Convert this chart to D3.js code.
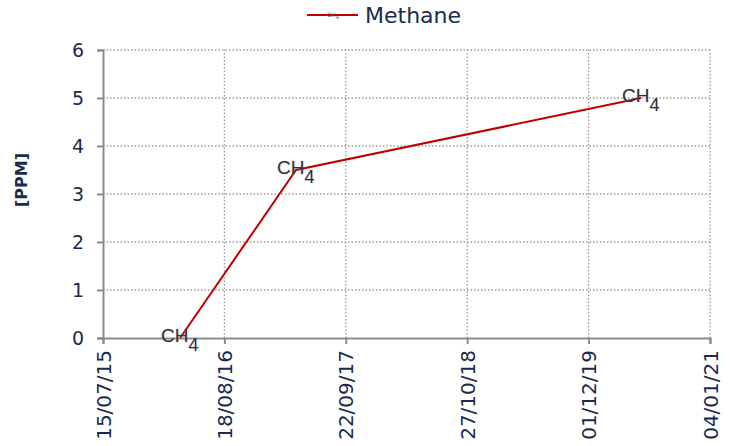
<!DOCTYPE html>
<html>
<head>
<meta charset="utf-8">
<script src="https://cdn.jsdelivr.net/npm/d3@7"></script>
<style>
  body { margin: 0; background: #fff; }
  svg { display: block; font-family: "DejaVu Sans", Verdana, sans-serif; }
</style>
</head>
<body>
<svg id="chart" width="735" height="446"></svg>
<script>
// Methane concentration readings
const sampleDates = ["2016-03-25", "2017-04-11", "2020-05-22"];
const methanePpm = [0, 3.5, 5.0];
const seriesName = "Methane";
const yTicks = [0, 1, 2, 3, 4, 5, 6];
const xTickDates = ["2015-07-15", "2016-08-18", "2017-09-22", "2018-10-27", "2019-12-01", "2021-01-04"];

const parse = d3.utcParse("%Y-%m-%d");
const fmt = d3.utcFormat("%d/%m/%y");
const data = sampleDates.map((d, i) => ({ date: parse(d), value: methanePpm[i] }));
const xTicks = xTickDates.map(parse);

const navy = "#1b2a4e";
const axisGray = "#8c8c8c";
const lineRed = "#c00000";
const tickFont = "'DejaVu Sans', Verdana, sans-serif";

const margin = { left: 103, right: 25, top: 50, bottom: 108 };
const W = 735, H = 446;
const svg = d3.select("#chart");

const x = d3.scaleUtc()
  .domain([xTicks[0], xTicks[xTicks.length - 1]])
  .range([margin.left, W - margin.right]);
const y = d3.scaleLinear().domain([0, 6]).range([H - margin.bottom, margin.top]);

// gridlines
const grid = svg.append("g");
grid.selectAll("line.h").data(yTicks.filter(v => v > 0)).join("line")
  .attr("x1", margin.left).attr("x2", W - margin.right)
  .attr("y1", d => y(d)).attr("y2", d => y(d))
  .attr("stroke", "#9a9a9a").attr("stroke-width", 1.3).attr("stroke-dasharray", "1.5,2");
grid.selectAll("line.v").data(xTicks.slice(1)).join("line")
  .attr("x1", d => x(d)).attr("x2", d => x(d))
  .attr("y1", y(0)).attr("y2", y(6))
  .attr("stroke", "#9a9a9a").attr("stroke-width", 1.3).attr("stroke-dasharray", "1.5,2");

// y axis
const yAxis = svg.append("g")
  .attr("transform", `translate(${margin.left},0)`)
  .call(d3.axisLeft(y).tickValues(yTicks).tickFormat(d3.format("d")).tickSize(6).tickPadding(13));
yAxis.select(".domain").attr("stroke", axisGray).attr("stroke-width", 2);
yAxis.selectAll(".tick line").attr("stroke", axisGray).attr("stroke-width", 2);
yAxis.selectAll(".tick text").attr("fill", navy).attr("font-size", 19)
  .attr("font-family", tickFont);

// x axis
const xAxis = svg.append("g")
  .attr("transform", `translate(0,${y(0)})`)
  .call(d3.axisBottom(x).tickValues(xTicks).tickFormat(fmt).tickSize(6));
xAxis.select(".domain").attr("stroke", axisGray).attr("stroke-width", 2);
xAxis.selectAll(".tick line").attr("stroke", axisGray).attr("stroke-width", 2);
xAxis.selectAll(".tick text")
  .attr("fill", navy).attr("font-size", 20)
  .attr("font-family", tickFont)
  .attr("transform", "rotate(-90)")
  .attr("text-anchor", "end")
  .attr("x", -12).attr("y", 0).attr("dy", "0.35em");

// y axis title
svg.append("text")
  .attr("transform", "translate(27,180) rotate(-90)")
  .attr("text-anchor", "middle")
  .attr("fill", navy).attr("font-weight", "bold").attr("font-size", 16)
  .text("[PPM]");

// series line
svg.append("path").datum(data)
  .attr("fill", "none").attr("stroke", lineRed).attr("stroke-width", 2)
  .attr("d", d3.line().x(d => x(d.date)).y(d => y(d.value)));

// point labels: CH4
const labels = svg.append("g").selectAll("text").data(data).join("text")
  .attr("x", d => x(d.date) - 19)
  .attr("y", d => y(d.value) + 4)
  .attr("fill", "#333").attr("font-size", 19)
  .attr("font-family", "'Liberation Sans', Arial, sans-serif")
  .style("paint-order", "stroke").attr("stroke", "rgba(120,150,200,0.3)").attr("stroke-width", 1);
labels.append("tspan").text("CH");
labels.append("tspan").attr("dy", 9).attr("font-size", 18).text("4");

// legend
const lg = svg.append("g");
lg.append("line").attr("x1", 307).attr("x2", 358).attr("y1", 15).attr("y2", 15)
  .attr("stroke", lineRed).attr("stroke-width", 2);
const lt = lg.append("text").attr("x", 327).attr("y", 17).attr("fill", "#555").attr("font-size", 6);
lt.append("tspan").text("CH");
lt.append("tspan").attr("dy", 2).attr("font-size", 5).text("4");
lg.append("text").attr("x", 365).attr("y", 23).attr("fill", navy).attr("font-size", 22)
  .attr("font-family", tickFont).text(seriesName);
</script>
</body>
</html>
